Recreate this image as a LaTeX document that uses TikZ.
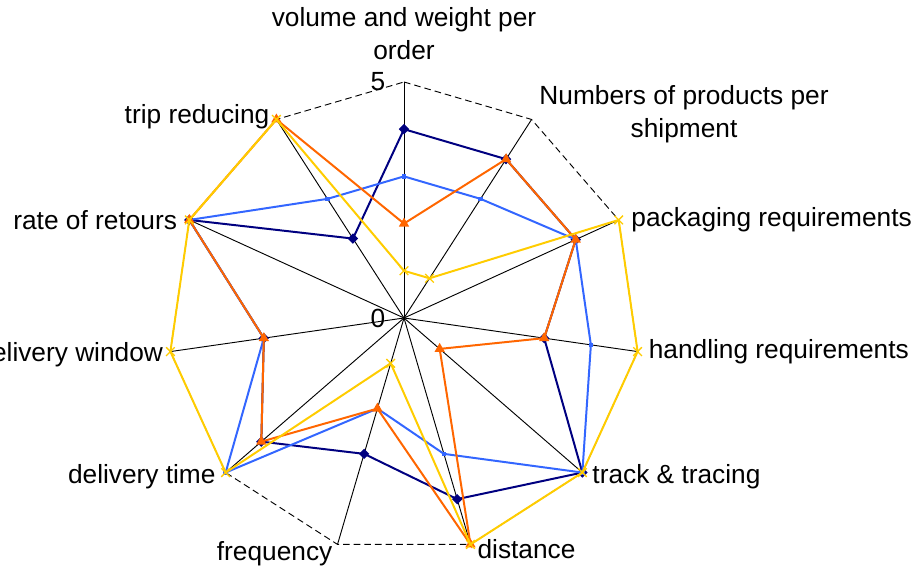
\documentclass[tikz,border=0pt]{standalone}
\usepackage{fontspec}
\setmainfont{Liberation Sans}
\usetikzlibrary{positioning, shapes.geometric, shapes.misc}

\definecolor{azuloscuro}{RGB}{0,0,128}
\definecolor{azulclaro}{RGB}{51,102,255}
\definecolor{naranja}{RGB}{255,102,0}
\definecolor{amarillo}{RGB}{255,204,0}

\tikzset{
  eje/.style={black, line width=0.7pt},
  borde/.style={black, line width=0.7pt, dash pattern=on 5pt off 3pt},
  etiqueta/.style={font=\fontsize{19.8}{25}\selectfont, inner sep=2pt},
  serieA/.style={azuloscuro, line width=1.5pt},
  serieB/.style={azulclaro, line width=1.5pt},
  serieC/.style={naranja, line width=1.5pt},
  serieD/.style={amarillo, line width=1.5pt},
  marcaA/.style={diamond, fill=azuloscuro, inner sep=0pt, minimum size=8pt},
  marcaB/.style={rectangle, fill=azulclaro, inner sep=0pt, minimum size=3.5pt},
  marcaC/.style={regular polygon, regular polygon sides=3, fill=naranja, inner sep=0pt, minimum size=9pt},
  marcaD/.style={cross out, draw=amarillo, line width=1pt, inner sep=0pt, minimum size=5.5pt},
}

% serie del radar: nombre, valores
\newcommand{\serieradar}[2]{%
  \foreach \v [count=\k from 0] in {#2}
    \coordinate (#1\k) at ({90-\k*360/11}:\v);
  \draw[serie#1] (#10) \foreach \k in {1,...,10} {-- (#1\k)} -- cycle;
  \foreach \k in {0,...,10}
    \node[marca#1] (m#1\k) at (#1\k) {};
}

\begin{document}
\begin{tikzpicture}[x=1.25cm, y=1.25cm]
  \useasboundingbox (-8.559,-5.360) rectangle (10.847,6.737);

  % Ejes
  \coordinate (centro) at (0,0);
  \foreach \k/\nombre in {0/volumen,1/productos,2/embalaje,3/manipulacion,4/rastreo,5/distancia,6/frecuencia,7/tiempo,8/ventana,9/retornos,10/viajes}{
    \coordinate (\nombre) at ({90-\k*360/11}:5);
    \draw[eje] (centro) -- (\nombre);
  }
  \draw[borde] (volumen) -- (productos) -- (embalaje) -- (manipulacion) -- (rastreo) -- (distancia) -- (frecuencia) -- (tiempo) -- (ventana) -- (retornos) -- (viajes) -- cycle;

  % Series
  \serieradar{A}{4,4,4,3,5,4,3,4,3,5,2}
  \serieradar{B}{3,3,4,4,5,3,2,5,3,5,3}
  \serieradar{C}{2,4,4,3,1,5,2,4,3,5,5}
  \serieradar{D}{1,1,5,5,5,5,1,5,5,5,5}

  % Escala
  \node[etiqueta, left=0.42cm of volumen] (cinco) {5};
  \node[etiqueta, left=0.42cm of centro] (cero) {0};

  % Rótulos de los ejes
  \node[etiqueta, align=center, above=0.51cm of volumen] (tvolumen) {volume and weight per\\order};
  \node[etiqueta, align=center, right=0.13cm of productos, yshift=0.13cm] (tproductos) {Numbers of products per\\shipment};
  \node[etiqueta, right=0.26cm of embalaje] (tembalaje) {packaging requirements};
  \node[etiqueta, right=0.22cm of manipulacion] (tmanipulacion) {handling requirements};
  \node[etiqueta, right=0.19cm of rastreo, yshift=-0.1cm] (trastreo) {track \& tracing};
  \node[etiqueta, right=0.11cm of distancia, yshift=-0.12cm] (tdistancia) {distance};
  \node[etiqueta, left=0.06cm of frecuencia, yshift=-0.24cm] (tfrecuencia) {frequency};
  \node[etiqueta, left=0.19cm of tiempo, yshift=-0.1cm] (ttiempo) {delivery time};
  \node[etiqueta, left=0.12cm of ventana, yshift=-0.08cm] (tventana) {delivery window};
  \node[etiqueta, left=0.25cm of retornos] (tretornos) {rate of retours};
  \node[etiqueta, left=0.11cm of viajes, yshift=0.08cm] (tviajes) {trip reducing};
\end{tikzpicture}
\end{document}
